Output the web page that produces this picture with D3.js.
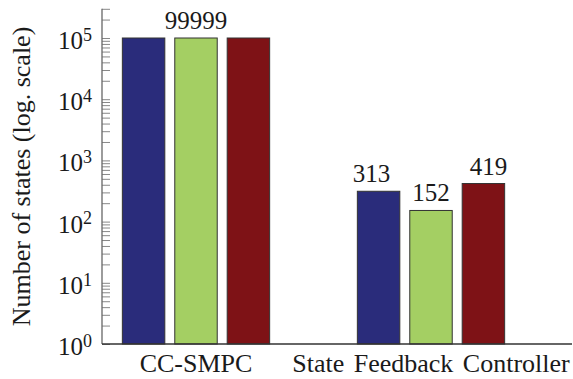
<!DOCTYPE html>
<html>
<head>
<meta charset="utf-8">
<script src="https://cdn.jsdelivr.net/npm/d3@7"></script>
<style>
  svg text, svg tspan { font-family: 'Liberation Serif', Tinos, 'Times New Roman', monospace !important; }
</style>
</head>
<body style="margin:0">
<svg id="s" width="573" height="379"></svg>
<script>
// ---- data ----
const categories = ["CC-SMPC", "State Feedback Controller"];
const seriesNames = ["Series 1", "Series 2", "Series 3"];
const series1 = [99999, 313];
const series2 = [99999, 152];
const series3 = [99999, 419];
// text printed above bars (empty = none)
const barLabels1 = ["", "313"];
const barLabels2 = ["99999", "152"];
const barLabels3 = ["", "419"];
const yTickExponents = [0, 1, 2, 3, 4, 5];

(function () {
// ---- styles ----
const colors = ["#2a2c7b", "#a4cf63", "#7e1216"];
const labelShift = [-7, 0, 5];
const FONT = "'Liberation Serif', monospace";

const svg = d3.select("#s");
const pLeft = 102, pRight = 572, pTop = 38, pBottom = 344;

const seriesValues = [series1, series2, series3];
const seriesLabels = [barLabels1, barLabels2, barLabels3];

const y = d3.scaleLog().domain([1, 1e5]).range([pBottom, pTop]);
const yTopVal = 3e5;
const x0 = d3.scaleLinear().domain([-0.4, 1.6]).range([pLeft, pRight]);
const x1 = d3.scaleBand().domain(d3.range(seriesNames.length))
  .range([-73.65, 73.65]).paddingInner(0.19).paddingOuter(0);

// minor + major ticks
const allTicks = [];
for (let e = 0; e <= 5; e++) {
  for (let m = 1; m <= 9; m++) {
    const v = m * Math.pow(10, e);
    if (v <= yTopVal) allTicks.push(v);
  }
}

// bars
const bars = [];
categories.forEach((c, ci) => {
  seriesValues.forEach((vals, si) => {
    bars.push({ ci, si, v: vals[ci], label: seriesLabels[si][ci] });
  });
});

svg.append("g").selectAll("rect").data(bars).join("rect")
  .attr("x", d => x0(d.ci) + x1(d.si))
  .attr("y", d => y(d.v))
  .attr("width", x1.bandwidth())
  .attr("height", d => y(1) - y(d.v))
  .attr("fill", d => colors[d.si])
  .attr("stroke", "#333")
  .attr("stroke-width", 1);

// y axis: ticks inward
const yAxis = d3.axisLeft(y).tickValues(allTicks).tickSize(-8).tickFormat("");
const gy = svg.append("g").attr("transform", `translate(${pLeft},0)`).call(yAxis);
gy.select(".domain").remove();
gy.selectAll(".tick line").attr("stroke", "#888").attr("stroke-width", 1);
gy.attr("font-family", null);
svg.append("line")
  .attr("x1", pLeft).attr("x2", pLeft)
  .attr("y1", y(yTopVal)).attr("y2", y(1))
  .attr("stroke", "#666").attr("stroke-width", 1.3);

// x axis line
svg.append("line")
  .attr("x1", pLeft).attr("x2", pRight)
  .attr("y1", y(1)).attr("y2", y(1))
  .attr("stroke", "#333").attr("stroke-width", 1.3);

function styleText(sel, size) {
  return sel.attr("font-family", FONT).style("font-family", FONT)
    .style("font-size", size + "px").style("fill", "#1a1a1a");
}

// y tick labels 10^n
const yl = svg.selectAll("text.ytl").data(yTickExponents).join("text")
  .attr("class", "ytl")
  .attr("x", pLeft - 10)
  .attr("y", d => y(Math.pow(10, d)) + 11)
  .attr("text-anchor", "end");
styleText(yl, 25);
yl.append("tspan").text("10");
yl.append("tspan").attr("dy", -8.3).style("font-size", "18px").text(d => d);

// category labels
const cl = svg.selectAll("text.cat").data(categories).join("text")
  .attr("class", "cat")
  .attr("x", (d, i) => x0(i))
  .attr("y", 371.5)
  .attr("text-anchor", "middle")
  .style("word-spacing", "3px")
  .text(d => d);
styleText(cl, 26);

// value labels
const vl = svg.selectAll("text.val").data(bars.filter(d => d.label)).join("text")
  .attr("class", "val")
  .attr("x", d => x0(d.ci) + x1(d.si) + x1.bandwidth() / 2 + labelShift[d.si] * (d.ci === 1 ? 1 : 0))
  .attr("y", d => y(d.v) - 9)
  .attr("text-anchor", "middle")
  .text(d => d.label);
styleText(vl, 25);

// y axis title
const yt = svg.append("text")
  .attr("transform", `translate(30,176.5) rotate(-90)`)
  .attr("text-anchor", "middle")
  .text("Number of states (log. scale)");
styleText(yt, 26);
})();
</script>
</body>
</html>
